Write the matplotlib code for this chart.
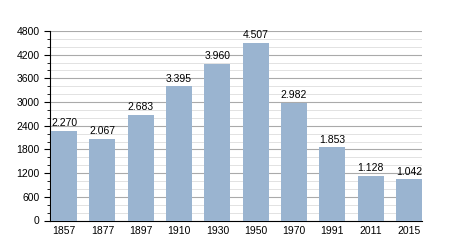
import matplotlib.pyplot as plt
from matplotlib.ticker import MultipleLocator

plt.rcParams['font.family'] = ['Liberation Sans', 'DejaVu Sans']

# population by census year
years = ['1857', '1877', '1897', '1910', '1930', '1950', '1970', '1991', '2011', '2015']
population = [2270, 2067, 2683, 3395, 3960, 4507, 2982, 1853, 1128, 1042]
labels = ['2.270', '2.067', '2.683', '3.395', '3.960', '4.507', '2.982', '1.853', '1.128', '1.042']

fig = plt.figure(figsize=(4.5, 2.5), dpi=100)
ax = fig.add_axes([0.111, 0.118, 0.827, 0.758])

x = range(len(years))
ax.bar(x, population, width=0.68, color='#9ab4d0', zorder=3)
for i, (v, t) in enumerate(zip(population, labels)):
    ax.text(i, v + 70, t, ha='center', va='bottom', fontsize=7.5, zorder=4)

ax.set_xlim(-0.37, len(years) - 0.66)
ax.set_ylim(0, 4800)
ax.set_xticks(list(x))
ax.set_xticklabels(years)
ax.yaxis.set_major_locator(MultipleLocator(600))
ax.yaxis.set_minor_locator(MultipleLocator(200))

ax.grid(axis='y', which='major', color='#aaaaaa', linewidth=0.8, zorder=0)
ax.grid(axis='y', which='minor', color='#dddddd', linewidth=0.6, zorder=0)

ax.spines['top'].set_visible(False)
ax.spines['right'].set_visible(False)
ax.tick_params(axis='both', labelsize=7.5, length=4, width=0.8)
ax.tick_params(axis='y', which='minor', length=2.5, width=0.6)
ax.tick_params(axis='x', length=0, pad=4)

fig.savefig('out.png', dpi=100)
